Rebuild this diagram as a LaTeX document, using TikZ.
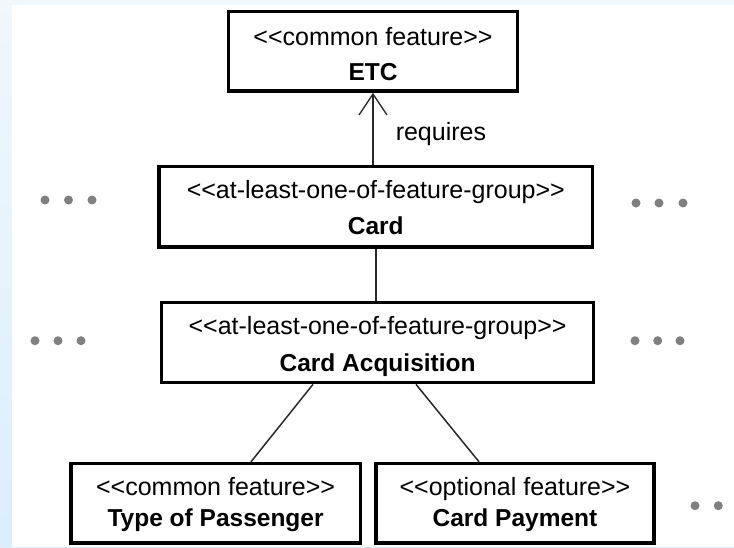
\documentclass[tikz,border=0pt]{standalone}
\usepackage{fontspec}
\newfontfamily\lsans{Liberation Sans}
\usetikzlibrary{arrows.meta}
\definecolor{bgtop}{RGB}{240,247,253}
\definecolor{bgbot}{RGB}{220,238,251}
\definecolor{dotc}{RGB}{128,128,128}
\definecolor{linec}{RGB}{40,40,40}
% #1 width, #2 height, #3 first baseline below top, #4 line skip, #5 stereotype, #6 name
\newcommand{\fbx}[6]{\parbox[c][#2pt][t]{#1pt}{\centering\lsans\fontsize{25}{#4pt}\selectfont\rule{0pt}{#3pt}#5\\\fontsize{24.5}{#4pt}\selectfont\bfseries #6}}
\begin{document}
\begin{tikzpicture}[x=1pt,y=-1pt,
  fbox/.style={draw=black, line width=3.5pt, inner sep=0pt, fill=white},
  conn/.style={draw=linec, line width=1.5pt},
  lbl/.style={inner sep=0pt, font=\lsans\fontsize{25}{30}\selectfont}]
\useasboundingbox (0,0) rectangle (734,547);
\shade[top color=bgtop, bottom color=bgbot] (0,0) rectangle (734,547);
\fill[white] (12,5) rectangle (734,547);

\node[fbox] (etc) at (373,51.3) {\fbx{289}{79.5}{34.3}{34.7}{<<common feature>>}{ETC}};
\node[fbox] (card) at (375.8,206.8) {\fbx{433.5}{80.5}{31.5}{36.5}{<<at-least-one-of-feature-group>>}{Card}};
\node[fbox] (acq) at (377.6,342.6) {\fbx{432}{80}{31.5}{37}{<<at-least-one-of-feature-group>>}{Card Acquisition}};
\node[fbox] (tp) at (215.6,503.3) {\fbx{289.5}{79.5}{32}{31}{<<common feature>>}{Type of Passenger}};
\node[fbox] (cp) at (515,503.3) {\fbx{277.6}{79.5}{32}{31}{<<optional feature>>}{Card Payment}};

\draw[conn, -{Straight Barb[length=21pt,width=28pt,line width=1.3pt]}]
  (card.north -| etc.south) -- (etc.south)
  node[lbl, pos=0.34, anchor=base west, xshift=22pt] (req) {requires};
\draw[conn] (card.south) -- (card.south |- acq.north);
\draw[conn] ([xshift=-64.6pt]acq.south) -- ([xshift=35.4pt]tp.north);
\draw[conn] ([xshift=38.4pt]acq.south) -- ([xshift=-36pt]cp.north);

\foreach \x/\y in {45/200, 68.5/200, 92/200, 636/203, 659/203, 683/203,
                   35/340.7, 58/340.7, 81/340.7, 635/340.7, 657.7/340.7, 680/340.7,
                   695/505.7, 718.3/505.7}
  \fill[dotc] (\x,\y) circle (4.5pt);
\end{tikzpicture}
\end{document}
